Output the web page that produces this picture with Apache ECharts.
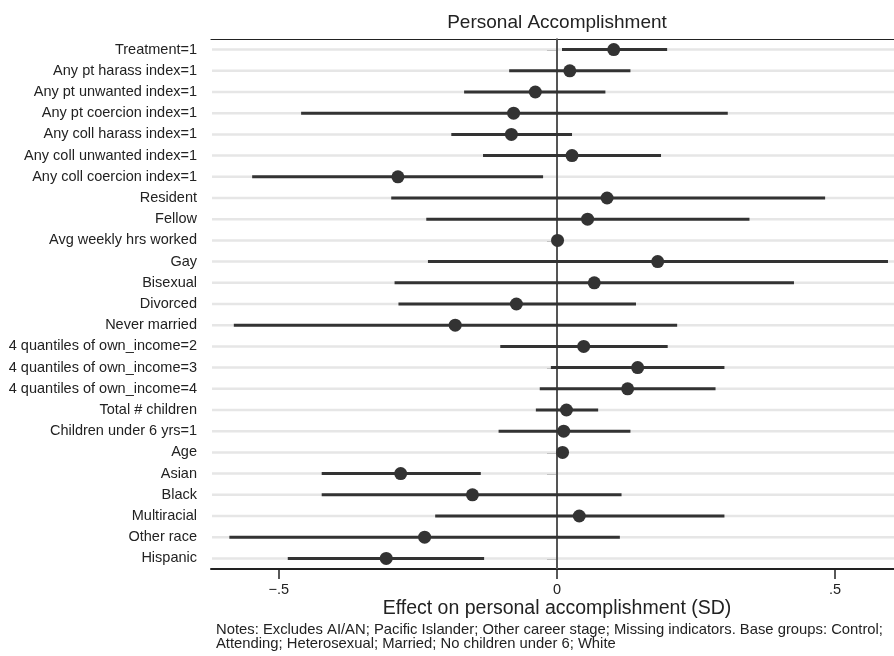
<!DOCTYPE html>
<html>
<head>
<meta charset="utf-8">
<script src="https://cdn.jsdelivr.net/npm/echarts@6/dist/echarts.min.js"></script>
<style>html,body{margin:0;padding:0;background:#fff}#c{width:894px;height:656px}</style>
</head>
<body>
<div id="c"></div>
<script>
const labels = ['Treatment=1','Any pt harass index=1','Any pt unwanted index=1','Any pt coercion index=1',
  'Any coll harass index=1','Any coll unwanted index=1','Any coll coercion index=1','Resident','Fellow',
  'Avg weekly hrs worked','Gay','Bisexual','Divorced','Never married','4 quantiles of own_income=2',
  '4 quantiles of own_income=3','4 quantiles of own_income=4','Total # children','Children under 6 yrs=1',
  'Age','Asian','Black','Multiracial','Other race','Hispanic'];
const est = [0.102,0.023,-0.039,-0.078,-0.082,0.027,-0.286,0.090,0.055,0.001,0.181,0.067,-0.073,-0.183,
  0.048,0.145,0.127,0.017,0.012,0.010,-0.281,-0.152,0.040,-0.238,-0.307];
const lo = [0.009,-0.086,-0.167,-0.460,-0.190,-0.133,-0.548,-0.298,-0.235,-0.004,-0.232,-0.292,-0.285,-0.581,
  -0.102,-0.011,-0.031,-0.038,-0.105,0.006,-0.423,-0.423,-0.219,-0.589,-0.484];
const hi = [0.198,0.132,0.087,0.307,0.027,0.187,-0.025,0.482,0.346,0.006,0.595,0.426,0.142,0.216,
  0.199,0.301,0.285,0.074,0.132,0.014,-0.137,0.116,0.301,0.113,-0.131];
const tickValues = [-0.5, 0, 0.5];
const tickLabels = ['\u2212.5', '0', '.5'];
const xMin = -0.622, xMax = 0.622;
const titleText = 'Personal Accomplishment';
const xTitle = 'Effect on personal accomplishment (SD)';
const notes = 'Notes: Excludes AI/AN; Pacific Islander; Other career stage; Missing indicators. Base groups: Control;\nAttending; Heterosexual; Married; No children under 6; White';

const FONT = '"Liberation Sans", Arial, Helvetica, sans-serif';
const chart = echarts.init(document.getElementById('c'), null, {renderer: 'canvas'});
const ciData = labels.map((l, i) => [i, lo[i], hi[i]]);
const ptData = labels.map((l, i) => [est[i], i]);

chart.setOption({
  animation: false,
  textStyle: {fontFamily: FONT, color: '#222'},
  grid: {left: 211, top: 39, width: 692, height: 530, outerBoundsMode: 'none', containLabel: false},
  xAxis: [{
    type: 'value', position: 'bottom', min: xMin, max: xMax,
    axisLine: {show: true, lineStyle: {color: '#222', width: 2}},
    axisTick: {show: true, customValues: tickValues, length: 10, lineStyle: {color: '#222', width: 1.5}},
    axisLabel: {customValues: tickValues, fontSize: 14.5, color: '#222', margin: 13, fontFamily: FONT,
      formatter: v => tickLabels[tickValues.findIndex(t => Math.abs(t - v) < 1e-9)] || ''},
    splitLine: {show: false},
    name: xTitle, nameLocation: 'middle', nameGap: 30, nameMoveOverlap: false,
    nameTextStyle: {fontSize: 19.5, color: '#222', fontFamily: FONT}
  }, {
    type: 'value', position: 'top', min: xMin, max: xMax,
    axisLine: {show: true, lineStyle: {color: '#222', width: 1.2}},
    axisTick: {show: false}, axisLabel: {show: false}, splitLine: {show: false},
    name: titleText, nameLocation: 'middle', nameGap: 7, nameMoveOverlap: false,
    nameTextStyle: {fontSize: 19, color: '#222', fontFamily: FONT}
  }],
  yAxis: {
    type: 'category', data: labels, inverse: true,
    axisLine: {show: true, lineStyle: {color: '#222', width: 1.5}},
    axisTick: {show: true, alignWithLabel: true, interval: 0, length: 10, lineStyle: {color: '#222', width: 1.5}},
    axisLabel: {interval: 0, fontSize: 14.5, color: '#222', margin: 14, fontFamily: FONT},
    splitLine: {show: false}
  },
  series: [{
    type: 'custom', z: 1, silent: true,
    data: ciData,
    renderItem: (params, api) => {
      const cs = params.coordSys;
      const y = api.coord([0, api.value(0)])[1];
      return {type: 'line', shape: {x1: cs.x + 1, y1: y, x2: cs.x + cs.width, y2: y},
        style: {stroke: '#e6e6e6', lineWidth: 2.5}};
    }
  }, {
    type: 'custom', z: 2, silent: true,
    data: [[0]],
    renderItem: (params, api) => {
      const cs = params.coordSys;
      const x = api.coord([api.value(0), 0])[0];
      return {type: 'line', shape: {x1: x, y1: cs.y, x2: x, y2: cs.y + cs.height},
        style: {stroke: '#555', lineWidth: 2}};
    }
  }, {
    type: 'custom', z: 3, silent: true,
    data: ciData,
    renderItem: (params, api) => {
      const a = api.coord([api.value(1), api.value(0)]);
      const b = api.coord([api.value(2), api.value(0)]);
      return {type: 'line', shape: {x1: a[0], y1: a[1], x2: b[0], y2: b[1]},
        style: {stroke: '#333', lineWidth: 3}};
    }
  }, {
    type: 'scatter', z: 4, silent: true,
    data: ptData, symbol: 'circle', symbolSize: 13,
    itemStyle: {color: '#333', opacity: 1}
  }],
  graphic: [{
    type: 'text', left: 216, top: 622,
    style: {text: notes, fontSize: 14.8, lineHeight: 14, fill: '#222', font: '14.8px ' + FONT}
  }]
});
</script>
</body>
</html>
